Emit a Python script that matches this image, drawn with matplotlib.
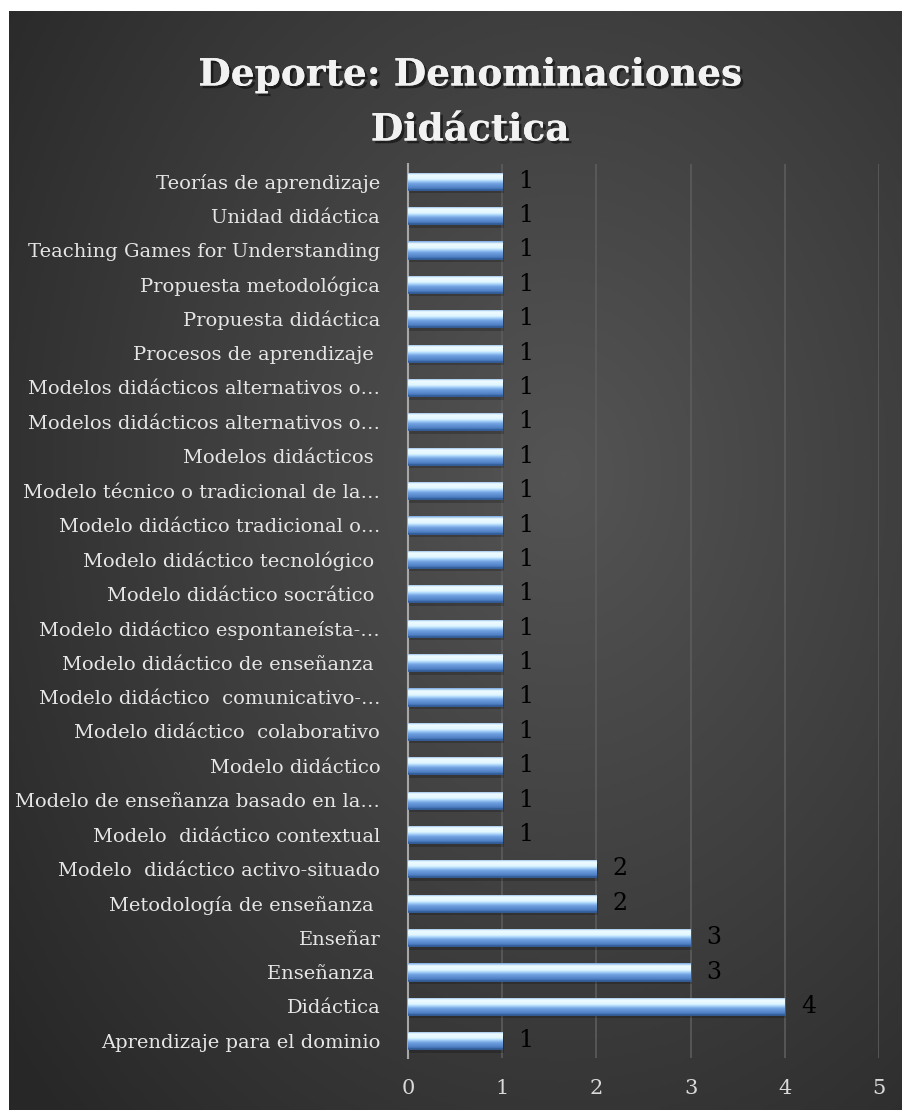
import numpy as np
import matplotlib
matplotlib.use("Agg")
import matplotlib.pyplot as plt
from matplotlib.colors import LinearSegmentedColormap
import matplotlib.patheffects as pe

# data, bottom to top
categories = [
    "Aprendizaje para el dominio",
    "Didáctica",
    "Enseñanza ",
    "Enseñar",
    "Metodología de enseñanza ",
    "Modelo  didáctico activo-situado",
    "Modelo  didáctico contextual",
    "Modelo de enseñanza basado en la…",
    "Modelo didáctico",
    "Modelo didáctico  colaborativo",
    "Modelo didáctico  comunicativo-…",
    "Modelo didáctico de enseñanza ",
    "Modelo didáctico espontaneísta-…",
    "Modelo didáctico socrático ",
    "Modelo didáctico tecnológico ",
    "Modelo didáctico tradicional o…",
    "Modelo técnico o tradicional de la…",
    "Modelos didácticos ",
    "Modelos didácticos alternativos o…",
    "Modelos didácticos alternativos o…",
    "Procesos de aprendizaje ",
    "Propuesta didáctica",
    "Propuesta metodológica",
    "Teaching Games for Understanding",
    "Unidad didáctica",
    "Teorías de aprendizaje",
]
counts = [1, 4, 3, 3, 2, 2, 1, 1, 1, 1, 1, 1, 1, 1, 1, 1, 1, 1, 1, 1, 1, 1, 1, 1, 1, 1]
xticks = [0, 1, 2, 3, 4, 5]

serif = "DejaVu Serif"

fig = plt.figure(figsize=(9.02, 11.10), dpi=100)
fig.patch.set_facecolor("white")

# dark radial background panel
bg = fig.add_axes([9 / 902, 0, 1 - 9 / 902, 1 - 11 / 1110], zorder=-10)
yy, xx = np.mgrid[0:1:400j, 0:1:400j]
r = np.sqrt(((xx - 0.62) / 0.8) ** 2 + ((yy - 0.42) / 0.85) ** 2)
bg_cmap = LinearSegmentedColormap.from_list("bg", ["#545454", "#3e3e3e", "#272727"])
bg.imshow(np.clip(r, 0, 1), cmap=bg_cmap, aspect="auto", extent=[0, 1, 0, 1], origin="upper")
bg.set_axis_off()

ax = fig.add_axes([408 / 902, 52 / 1110, 471 / 902, 894 / 1110])
ax.patch.set_alpha(0)

y = np.arange(len(categories))
bars = ax.barh(y, counts, height=0.5, color="#6a9ad8", edgecolor="#2f5a95", linewidth=0.6, zorder=3)

# glossy vertical gradient on each bar
bar_cmap = LinearSegmentedColormap.from_list(
    "bar", [(0, "#2f5a95"), (0.1, "#4f80c4"), (0.35, "#6f9fe0"),
            (0.5, "#a8d4fa"), (0.62, "#e2f6ff"), (0.85, "#eefcff"), (1, "#78a8e2")])
grad = np.linspace(0, 1, 64).reshape(-1, 1)
for b in bars:
    x0, y0, w, h = b.get_x(), b.get_y(), b.get_width(), b.get_height()
    # soft shadow
    ax.barh(y0 + h / 2 - 0.1, w, height=h, left=x0 + 0.015, color="black", alpha=0.2, zorder=2)
    im = ax.imshow(grad, cmap=bar_cmap, aspect="auto", origin="lower",
                   extent=[x0, x0 + w, y0, y0 + h], zorder=4)
    im.set_clip_path(b)

for yi, c in zip(y, counts):
    ax.text(c + 0.17, yi, str(c), va="center", ha="left", fontsize=17,
            family=serif, color="black", zorder=5)

ax.set_xlim(0, 5)
ax.set_ylim(-0.5, len(categories) - 0.5)
ax.set_xticks(xticks)
ax.set_yticks(y)
ax.set_yticklabels(categories, family=serif, fontsize=14, color="#e6e6e6")
ax.set_xticklabels([str(t) for t in xticks], family=serif, fontsize=15, color="#d9d9d9")
ax.tick_params(axis="both", length=0)
ax.tick_params(axis="y", pad=20)
ax.tick_params(axis="x", pad=15)
ax.grid(axis="x", color="#5c5c5c", linewidth=1.2, zorder=0)
ax.set_axisbelow(True)
for s in ["top", "right", "bottom"]:
    ax.spines[s].set_visible(False)
ax.spines["left"].set_color("#a6a6a6")
ax.spines["left"].set_linewidth(1.5)

shadow = [pe.withSimplePatchShadow(offset=(2, -2), shadow_rgbFace="black", alpha=0.5), pe.Normal()]
fig.text(470 / 902, 1 - 75 / 1110, "Deporte: Denominaciones", ha="center", va="center",
         fontsize=27, fontweight="bold", family=serif, color="#f2f2f2", path_effects=shadow)
fig.text(470 / 902, 1 - 130 / 1110, "Didáctica", ha="center", va="center",
         fontsize=27, fontweight="bold", family=serif, color="#f2f2f2", path_effects=shadow)

fig.savefig("out.png", dpi=100, facecolor=fig.get_facecolor())
